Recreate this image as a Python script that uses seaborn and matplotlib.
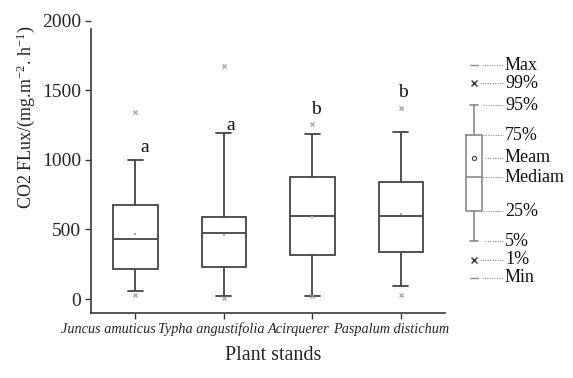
import numpy as np
import pandas as pd
import matplotlib
matplotlib.use("Agg")
import matplotlib.pyplot as plt
import matplotlib.transforms as mtransforms
import seaborn as sns

# ---- data ----
stands = ["Juncus amuticus", "Typha angustifolia", "Acirquerer", "Paspalum distichum"]
p5 = [55, 21, 21, 95]
q1 = [219, 229, 320, 339]
median = [432, 477, 596, 596]
q3 = [673, 589, 880, 840]
p95 = [997, 1193, 1186, 1198]
means = [470, 463, 592, 613]
high_marks = [1345, 1675, 1257, 1376]
low_marks = [26, 10, 21, 26]
letters = ["a", "a", "b", "b"]
letter_y = [1090, 1245, 1365, 1483]

yticks = [0, 500, 1000, 1500, 2000]
legend_labels = ["Max", "99%", "95%", "75%", "Meam", "Mediam", "25%", "5%", "1%", "Min"]

# ---- build long table of the five box statistics ----
rows = []
for i, s in enumerate(stands):
    for v in (p5[i], q1[i], median[i], q3[i], p95[i]):
        rows.append({"stand": s, "value": v})
box_df = pd.DataFrame(rows)
mark_df = pd.DataFrame({"stand": stands * 2, "value": high_marks + low_marks})
mean_df = pd.DataFrame({"stand": stands, "value": means})

sns.set_style("ticks")
plt.rcParams["font.family"] = ["Liberation Serif", "DejaVu Serif"]
plt.rcParams["mathtext.fontset"] = "custom"
plt.rcParams["mathtext.rm"] = "Liberation Serif"
plt.rcParams["mathtext.it"] = "Liberation Serif:italic"

fig = plt.figure(figsize=(5.73, 3.78), dpi=100)
ax = fig.add_axes([0.159, 0.172, 0.618, 0.773])

line_c = "#3a3a3a"
sns.boxplot(data=box_df, x="stand", y="value", order=stands, whis=(0, 100),
            width=0.5, color="white", linecolor="#444444", linewidth=1.3,
            showfliers=False, capwidths=0.17, ax=ax)
sns.stripplot(data=mark_df, x="stand", y="value", order=stands, jitter=False,
              marker="x", size=3, color="#999999", linewidth=0.8, ax=ax)
sns.stripplot(data=mean_df, x="stand", y="value", order=stands, jitter=False,
              marker="s", size=2, color="#aaaaaa", linewidth=0, ax=ax)

letter_dx = [0.057, 0.023, -0.011, -0.034]
for i, (lt, ly) in enumerate(zip(letters, letter_y)):
    ax.text(i + letter_dx[i], ly, lt, fontsize=14, ha="left", va="center", color="#111111")

ax.set_xlim(-0.5, 3.5)
ax.set_ylim(-100, 2000)
ax.set_yticks(yticks)
ax.set_yticklabels([str(t) for t in yticks], fontsize=14)
ax.set_xticks(range(len(stands)))
ax.set_xticklabels(stands, fontsize=10.3, style="italic")
ax.tick_params(axis="both", direction="out", length=4, width=1, color=line_c, pad=3)
# shift tick labels horizontally so they run on like in the reference
label_shift_px = [-27, -13, -14, -10]
for lab, dx in zip(ax.get_xticklabels(), label_shift_px):
    lab.set_transform(lab.get_transform() +
                      mtransforms.ScaledTranslation(dx / 100, 0, fig.dpi_scale_trans))
for side in ("top", "right"):
    ax.spines[side].set_visible(False)
for side in ("left", "bottom"):
    ax.spines[side].set_color(line_c)
    ax.spines[side].set_linewidth(1.2)
ax.spines["left"].set_bounds(-100, 1940)

ax.set_xlabel("Plant stands", fontsize=14.5)
ax.set_ylabel("CO2 FLux/(mg.m$^{-2}$. h$^{-1}$)", fontsize=13)
ax.yaxis.set_label_coords(-0.153, 0.67)
ax.xaxis.set_label_coords(0.514, -0.112)

# ---- schematic legend on the right (pixel-like coordinates) ----
lg = fig.add_axes([455 / 573, 1 - 290 / 378, 118 / 573, 235 / 378])
lg.set_xlim(455, 573)
lg.set_ylim(290, 55)
lg.axis("off")
gc = "#8a8a8a"
ys = [65, 83, 105, 135, 158, 177, 211, 241, 260, 278]
bx0, bx1, cx = 466, 482, 474
lg.plot([bx0, bx1, bx1, bx0, bx0], [135, 135, 211, 211, 135], color=gc, lw=1.2)
lg.plot([bx0, bx1], [177, 177], color=gc, lw=1.2)
lg.plot([cx, cx], [105, 135], color=gc, lw=1.2)
lg.plot([cx, cx], [211, 241], color=gc, lw=1.2)
lg.plot([cx - 4, cx + 4], [105, 105], color=gc, lw=1.2)
lg.plot([cx - 4, cx + 4], [241, 241], color=gc, lw=1.2)
lg.plot([cx - 4, cx + 4], [65, 65], color=gc, lw=1.0)
lg.plot([cx - 4, cx + 4], [278, 278], color=gc, lw=1.0)
lg.plot([cx], [158], marker="o", ms=3, mfc="white", mec="#444444", mew=0.8)
lg.plot([cx], [83], marker="x", ms=5, color="#333333", mew=1.0)
lg.plot([cx], [260], marker="x", ms=5, color="#333333", mew=1.0)
starts = [482, 480, 483, 483, 485, 483, 483, 485, 480, 482]
for y, s, lab in zip(ys, starts, legend_labels):
    lg.plot([s, 503], [y, y], color="#777777", lw=0.7, ls=(0, (1, 1.5)))
    lg.text(505, y, lab, fontsize=13, ha="left", va="center", color="#111111")

fig.savefig("out.png", dpi=100)
